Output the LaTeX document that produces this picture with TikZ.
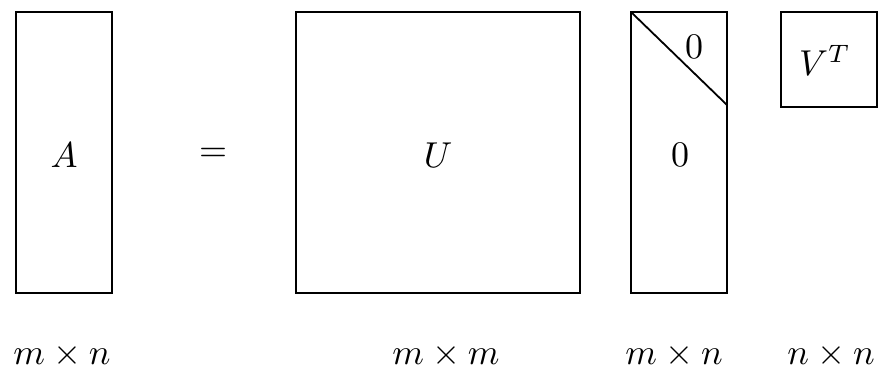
\documentclass[tikz,border=0pt]{standalone}
\begin{document}
\begin{tikzpicture}[x=0.2778pt,y=-0.2778pt,
  mat/.style={draw,line width=0.5pt,inner sep=0pt,minimum width=0pt},
  lbl/.style={inner sep=0pt}]
\useasboundingbox (0,0) rectangle (878,374);
% boxes
\draw[line width=0.5pt] (16,12) rectangle (112,293);
\node[lbl] (A) at (64,155) {$A$};
\node[lbl] (eq) at (213,155) {$=$};
\draw[line width=0.5pt] (296,12) rectangle (580,293);
\node[lbl] (U) at (438,155) {$U$};
\draw[line width=0.5pt] (631,12) rectangle (727,293);
\coordinate (sTL) at (631,12);
\coordinate (sR) at (727,105);
\draw[line width=0.5pt] (sTL) -- (sR);
\node[lbl] (z1) at (694,47) {$0$};
\node[lbl] (z2) at (680,155) {$0$};
\draw[line width=0.5pt] (781,12) rectangle (877,107);
\node[lbl] (V) at (825,60) {$V^T$};
% dimension labels
\node[lbl] (dA) at (62,355) {$m\times n$};
\node[lbl] (dU) at (446,355) {$m\times m$};
\node[lbl] (dS) at (674,355) {$m\times n$};
\node[lbl] (dV) at (831,355) {$n\times n$};
\end{tikzpicture}
\end{document}
